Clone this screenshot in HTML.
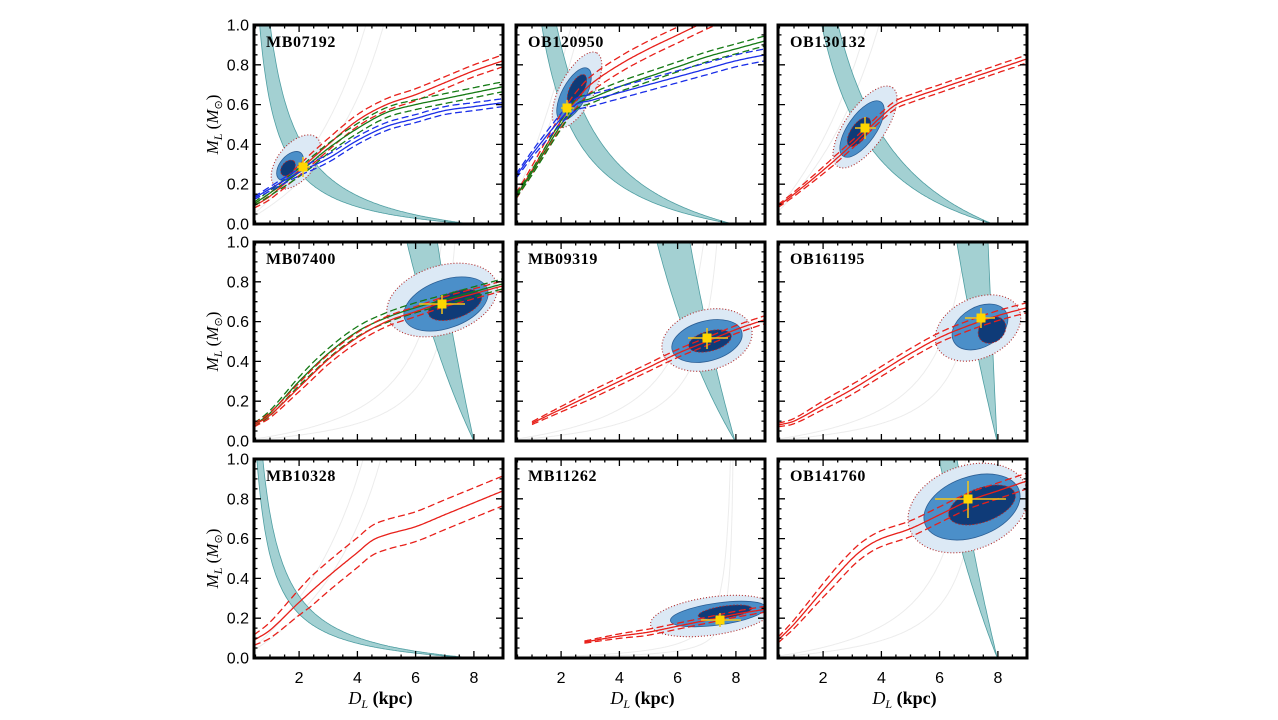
<!DOCTYPE html>
<html><head><meta charset="utf-8">
<style>
html,body{margin:0;padding:0;background:#fff;}
svg{display:block;}
</style></head>
<body>
<svg id="s" xmlns="http://www.w3.org/2000/svg" width="1278" height="720" viewBox="0 0 1278 720"></svg>
<script>
const svg=document.getElementById('s');
const X0=[254,516,778],Y0=[25,242,459],W=249,H=199,DMIN=0.45,DMAX=9;
let out='';
function cr(pts,D){
  if(D<=pts[0][0]) return pts[0][1];
  const n=pts.length;
  if(D>=pts[n-1][0]) return pts[n-1][1];
  let i=0; while(i<n-2 && D>pts[i+1][0]) i++;
  const p1=pts[i],p2=pts[i+1];
  const p0=pts[Math.max(0,i-1)],p3=pts[Math.min(n-1,i+2)];
  const t=(D-p1[0])/(p2[0]-p1[0]);
  const dx=p2[0]-p1[0];
  const m1=(p2[1]-p0[1])/(p2[0]-p0[0]||1)*dx;
  const m2=(p3[1]-p1[1])/(p3[0]-p1[0]||1)*dx;
  const t2=t*t,t3=t2*t;
  return (2*t3-3*t2+1)*p1[1]+(t3-2*t2+t)*m1+(-2*t3+3*t2)*p2[1]+(t3-t2)*m2;
}
function P(c,r,pts,off,col,dash,w){
  const x0=X0[c],y0=Y0[r];
  const D0=pts[0][0],D1=Math.max(pts[pts.length-1][0],DMAX);
  let d='';
  for(let k=0;k<=160;k++){
    const D=D0+(D1-D0)*k/160;
    let M=cr(pts,D);
    if(off) M+=off*Math.min(1,0.35+(D-D0)/3);
    const x=x0+(D-DMIN)/(DMAX-DMIN)*W, y=y0+H*(1-M);
    d+=(k?'L':'M')+x.toFixed(1)+','+y.toFixed(1);
  }
  out+=`<path d="${d}" fill="none" stroke="${col}" stroke-width="${w||1.3}" ${dash?'stroke-dasharray="7,3.5"':''}/>`;
}
function curveSet(c,r,pts,o,col){
  P(c,r,pts,0,col,false);
  P(c,r,pts,o,col,true);
  P(c,r,pts,-o,col,true);
}
function band(c,r,c1,c2,Ds){
  const x0=X0[c],y0=Y0[r];
  let a=[],b=[];
  for(let k=0;k<=200;k++){
    const D=0.2+(Ds-0.2)*k/200;
    const f=1/D-1/Ds;
    const x=x0+(D-DMIN)/(DMAX-DMIN)*W;
    a.push([x,y0+H*(1-Math.min(1.6,c2*f))]);
    b.push([x,y0+H*(1-Math.min(1.6,c1*f))]);
  }
  const pts=a.concat(b.reverse());
  out+=`<polygon points="${pts.map(p=>p[0].toFixed(1)+','+p[1].toFixed(1)).join(' ')}" fill="#a3d0d2" stroke="#4f9ea2" stroke-width="0.8"/>`;
}
function gray(c,r,k,Ds){
  const x0=X0[c],y0=Y0[r];let d='';
  for(let i=0;i<=200;i++){
    const D=0.3+(Ds-0.31)*i/200;
    const M=k/(1/D-1/Ds);
    const x=x0+(D-DMIN)/(DMAX-DMIN)*W;
    d+=(i?'L':'M')+x.toFixed(1)+','+(y0+H*(1-Math.min(M,1.5))).toFixed(1);
  }
  out+=`<path d="${d}" fill="none" stroke="#ececec" stroke-width="1"/>`;
}
function cont(el){
  const [L,Mm,Dk]=el;
  const e=(p,fill,extra)=>`<ellipse cx="${p[0]}" cy="${p[1]}" rx="${p[2]}" ry="${p[3]}" transform="rotate(${p[4]} ${p[0]} ${p[1]})" fill="${fill}" ${extra}/>`;
  out+=e(L,'#dce9f5','stroke="#b02a2a" stroke-width="1.1" stroke-dasharray="1,2"');
  out+=e(Mm,'#4b8fc9','stroke="#2c5f95" stroke-width="0.8"');
  out+=e(Dk,'#0f3b78','stroke="#b02a2a" stroke-width="0.8" stroke-dasharray="2,1.5"');
}
function cross(x,y,x1,x2,y1,y2){
  out+=`<g stroke="#f5c518" stroke-width="1.5"><line x1="${x1}" y1="${y}" x2="${x2}" y2="${y}"/><line x1="${x}" y1="${y1}" x2="${x}" y2="${y2}"/></g><rect x="${x-4.5}" y="${y-4.5}" width="9" height="9" fill="#ffd700"/>`;
}
const panels=[
 {c:0,r:0,name:'MB07192',band:[0.7,1.15,7.9],gray:[0.108,0.079],
  curves:[
   [[[0.45,0.09],[1,0.14],[2,0.27],[3,0.4],[4,0.52],[5,0.6],[6,0.65],[7,0.71],[8,0.77],[9,0.82]],0.03,'#e8201a'],
   [[[0.45,0.1],[2,0.26],[3,0.38],[4,0.48],[5,0.56],[6,0.6],[7,0.63],[8,0.66],[9,0.69]],0.025,'#157a15'],
   [[[0.45,0.13],[2,0.26],[3,0.33],[4,0.42],[5,0.49],[6,0.53],[7,0.57],[8,0.59],[9,0.61]],0.02,'#1a2ee8']],
  cont:[[296,162,32,18,-50],[290,166,17,10,-50],[288,168,9,6,-50]],cross:[303,167,297,310,157,177]},
 {c:1,r:0,name:'OB120950',band:[1.6,2.4,7.9],gray:[0.3,0.25],
  curves:[
   [[[0.45,0.14],[1,0.27],[2,0.52],[2.5,0.62],[3,0.7],[4,0.8],[5,0.88],[6,0.95],[7,1.02],[9,1.15]],0.04,'#e8201a'],
   [[[0.45,0.14],[1,0.26],[2,0.5],[2.5,0.6],[3,0.63],[4,0.69],[5,0.74],[6,0.79],[7,0.84],[8,0.88],[9,0.92]],0.025,'#157a15'],
   [[[0.45,0.24],[1,0.35],[2,0.53],[2.5,0.6],[3,0.62],[4,0.66],[5,0.7],[6,0.74],[7,0.78],[8,0.82],[9,0.85]],0.03,'#1a2ee8']],
  cont:[[577,90,42,17,-62],[574,94,29,12,-62],[577,89,16,7,-62]],cross:[567,108,561,574,100,116]},
 {c:2,r:0,name:'OB130132',band:[2.6,3.7,7.83],gray:[0.16,0.13],
  curves:[[[[0.45,0.09],[1,0.15],[2,0.27],[3,0.4],[3.5,0.47],[4,0.54],[4.5,0.6],[5,0.63],[6,0.68],[7,0.73],[8,0.78],[9,0.83]],0.02,'#e8201a']],
  cont:[[865,127,48,20,-55],[862,129,33,14,-55],[859,132,17,8,-55]],cross:[865,128,855,876,117,139]},
 {c:0,r:1,name:'MB07400',band:[19.8,43,8.0],gray:[0.02,0.011],
  curves:[
   [[[0.45,0.08],[1,0.14],[2,0.3],[3,0.44],[4,0.55],[5,0.62],[6,0.67],[7,0.71],[8,0.75],[9,0.79]],0.025,'#157a15'],
   [[[0.45,0.08],[1,0.13],[2,0.27],[3,0.41],[4,0.52],[5,0.6],[6,0.65],[7,0.7],[8,0.74],[9,0.78]],0.025,'#e8201a']],
  cont:[[442,300,57,34,-18],[446,304,44,24,-20],[455,305,28,13,-20]],cross:[442,304,419,465,295,314]},
 {c:1,r:1,name:'MB09319',band:[15.7,33,7.97],gray:[0.02,0.011],
  curves:[[[[1,0.09],[2,0.16],[3,0.23],[4,0.3],[5,0.37],[6,0.44],[7,0.5],[8,0.56],[9,0.61]],0.02,'#e8201a']],
  cont:[[707,340,46,30,-15],[707,341,36,20,-15],[710,341,22,10,-15]],cross:[707,338,688,728,328,349]},
 {c:2,r:1,name:'OB161195',band:[38,197,7.97],gray:[0.02,0.011],
  curves:[[[[0.45,0.08],[1,0.1],[2,0.18],[3,0.26],[4,0.35],[5,0.44],[6,0.52],[7,0.58],[8,0.63],[9,0.67]],0.025,'#e8201a']],
  cont:[[978,328,45,30,-25],[980,327,30,20,-30],[992,330,15,12,-40]],cross:[981,318,965,995,308,328]},
 {c:0,r:2,name:'MB10328',band:[0.59,0.83,7.97],gray:[0.113,0.083],
  curves:[[[[0.45,0.09],[1,0.14],[2,0.28],[3,0.41],[4,0.53],[4.5,0.59],[5,0.62],[6,0.66],[7,0.72],[8,0.78],[9,0.84]],0.075,'#e8201a']],
  cont:null},
 {c:1,r:2,name:'MB11262',band:null,gray:[0.003,0.0015],
  curves:[[[[2.8,0.08],[4,0.11],[5,0.13],[6,0.16],[7,0.19],[8,0.22],[9,0.245]],0.015,'#e8201a']],
  cont:[[712,616,62,19,-8],[718,614,48,11,-8],[725,612,27,6,-8]],cross:[720,620,701,741,613,627]},
 {c:2,r:2,name:'OB141760',band:[23.8,38,7.98],gray:[0.02,0.011],
  curves:[[[[0.45,0.09],[1,0.17],[2,0.34],[3,0.5],[3.5,0.56],[4,0.6],[5,0.65],[6,0.72],[7,0.79],[8,0.84],[9,0.89]],0.04,'#e8201a']],
  cont:[[968,508,62,42,-20],[972,507,50,30,-20],[982,505,35,17,-20]],cross:[968,499,935,1006,481,518]},
];
out+='<defs>';
for(let r=0;r<3;r++)for(let c=0;c<3;c++)out+=`<clipPath id="cp${c}${r}"><rect x="${X0[c]}" y="${Y0[r]}" width="${W}" height="${H}"/></clipPath>`;
out+='</defs>';
for(const p of panels){
  const {c,r}=p;
  out+=`<g clip-path="url(#cp${c}${r})">`;
  gray(c,r,p.gray[0],8);gray(c,r,p.gray[1],8);
  if(p.band) band(c,r,p.band[0],p.band[1],p.band[2]);
  if(p.cont) cont(p.cont);
  for(const cv of p.curves) curveSet(c,r,cv[0],cv[1],cv[2]);
  if(p.cross) cross(...p.cross);
  out+='</g>';
  const x0=X0[c],y0=Y0[r];
  let t='';
  for(let D=0.5;D<=9.001;D+=0.5){
    const x=x0+(D-DMIN)/(DMAX-DMIN)*W;
    const maj=Math.abs(D%2)<1e-6;
    const L=maj?7:3.5;
    t+=`M${x.toFixed(1)},${y0+H}v${-L}M${x.toFixed(1)},${y0}v${L}`;
  }
  for(let i=1;i<20;i++){
    const y=y0+H*(1-i*0.05);
    const L=(i%4===0)?7:3.5;
    t+=`M${x0},${y.toFixed(1)}h${L}M${x0+W},${y.toFixed(1)}h${-L}`;
  }
  out+=`<path d="${t}" stroke="#000" stroke-width="1.3" fill="none"/>`;
  out+=`<rect x="${x0}" y="${y0}" width="${W}" height="${H}" fill="none" stroke="#000" stroke-width="3"/>`;
  out+=`<text x="${x0+12}" y="${y0+22}" font-family="Liberation Serif, serif" font-weight="bold" font-size="16" letter-spacing="0.6">${p.name}</text>`;
  if(c===0){
    for(let i=0;i<=5;i++){
      const y=y0+H*(1-i*0.2);
      out+=`<text x="${x0-5}" y="${(y+5.5).toFixed(1)}" text-anchor="end" font-family="Liberation Sans, sans-serif" font-size="16">${(i*0.2).toFixed(1)}</text>`;
    }
    out+=`<text transform="translate(218,${y0+H/2}) rotate(-90)" text-anchor="middle" font-family="Liberation Serif, serif" font-size="17"><tspan font-style="italic">M</tspan><tspan font-style="italic" font-size="12" dy="4">L</tspan><tspan dy="-4"> (</tspan><tspan font-style="italic">M</tspan><tspan font-size="11" dy="4">&#x2299;</tspan><tspan dy="-4">)</tspan></text>`;
  }
  if(r===2){
    for(const D of [2,4,6,8]){
      const x=x0+(D-DMIN)/(DMAX-DMIN)*W;
      out+=`<text x="${x.toFixed(1)}" y="683" text-anchor="middle" font-family="Liberation Sans, sans-serif" font-size="16">${D}</text>`;
    }
    out+=`<text x="${x0+W/2+2}" y="704" text-anchor="middle" font-family="Liberation Serif, serif" font-size="18"><tspan font-style="italic">D</tspan><tspan font-style="italic" font-size="12" dy="4">L</tspan><tspan dy="-4" font-weight="bold"> (kpc)</tspan></text>`;
  }
}
svg.innerHTML=out;
</script>
</body></html>
